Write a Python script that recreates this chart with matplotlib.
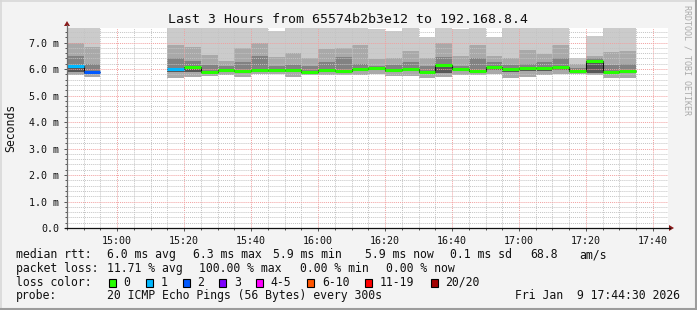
import matplotlib
matplotlib.use("Agg")
import matplotlib.pyplot as plt
import numpy as np
from matplotlib.patches import Rectangle, Polygon
from matplotlib.lines import Line2D

# ---------------- data ----------------
bin_times = ["14:45", "14:50", "14:55", "15:00", "15:05", "15:10", "15:15", "15:20",
             "15:25", "15:30", "15:35", "15:40", "15:45", "15:50", "15:55", "16:00",
             "16:05", "16:10", "16:15", "16:20", "16:25", "16:30", "16:35", "16:40",
             "16:45", "16:50", "16:55", "17:00", "17:05", "17:10", "17:15", "17:20",
             "17:25", "17:30"]
nan = float("nan")
median_ms = [6.10, 5.89, nan, nan, nan, nan, 6.01, 6.09, 5.90, 5.97, 5.94, 5.97,
             5.97, 5.97, 5.90, 5.98, 5.92, 6.01, 6.05, 5.97, 6.01, 5.90, 6.16, 6.01,
             5.92, 6.07, 6.01, 6.05, 6.05, 6.06, 5.92, 6.29, 5.88, 5.92]
loss_bucket = [1, 2, -1, -1, -1, -1, 1, 0, 0, 0, 0, 0, 0, 0, 0, 0, 0, 0, 0, 0, 0,
               0, 0, 0, 0, 0, 0, 0, 0, 0, 0, 0, 0, 0]
smoke_min = [5.77, 5.71, nan, nan, nan, nan, 5.65, 5.70, 5.73, 5.77, 5.71, 5.80,
             5.80, 5.71, 5.77, 5.77, 5.77, 5.77, 5.80, 5.75, 5.75, 5.67, 5.71, 5.77,
             5.77, 5.82, 5.65, 5.71, 5.77, 5.82, 5.82, 5.77, 5.65, 5.65]
smoke_q1 = [5.90, 5.80, nan, nan, nan, nan, 5.90, 5.90, 5.85, 5.88, 5.85, 5.90,
            5.90, 5.88, 5.85, 5.90, 5.88, 5.92, 5.95, 5.90, 5.92, 5.85, 5.85, 5.92,
            5.88, 5.95, 5.90, 5.92, 5.92, 5.95, 5.88, 5.85, 5.85, 5.88]
smoke_q3 = [6.50, 6.20, nan, nan, nan, nan, 6.40, 6.30, 6.15, 6.10, 6.28, 6.50,
            6.10, 6.15, 6.10, 6.25, 6.45, 6.20, 6.10, 6.15, 6.25, 6.10, 6.45, 6.10,
            6.40, 6.25, 6.15, 6.20, 6.25, 6.40, 6.05, 6.40, 6.15, 6.20]
smoke_q4 = [6.97, 6.84, nan, nan, nan, nan, 6.90, 6.85, 6.53, 6.30, 6.80, 7.00,
            6.45, 6.60, 6.40, 6.75, 6.80, 6.90, 6.38, 6.40, 6.70, 6.40, 7.00, 6.50,
            6.90, 6.50, 6.40, 6.72, 6.55, 6.90, 6.20, 6.50, 6.65, 6.70]
smoke_max = [7.80, 7.80, nan, nan, nan, nan, 7.80, 7.80, 7.80, 7.80, 7.80, 7.80,
             7.43, 7.80, 7.80, 7.80, 7.80, 7.80, 7.53, 7.45, 7.80, 7.20, 7.80, 7.50,
             7.80, 7.20, 7.80, 7.80, 7.80, 7.80, 6.40, 7.25, 7.80, 7.80]

loss_labels = ["0", "1", "2", "3", "4-5", "6-10", "11-19", "20/20"]
loss_colors = ["#26ff00", "#00b8ff", "#0059ff", "#7e00ff", "#ff00ff", "#ff5500",
               "#ff0000", "#a10000"]

x_tick_labels = ["15:00", "15:20", "15:40", "16:00", "16:20", "16:40", "17:00",
                 "17:20", "17:40"]
y_tick_values = [0, 1, 2, 3, 4, 5, 6, 7]
y_tick_labels = ["0.0", "1.0 m", "2.0 m", "3.0 m", "4.0 m", "5.0 m", "6.0 m", "7.0 m"]

title = "Last 3 Hours from 65574b2b3e12 to 192.168.8.4"
legend_rtt = [("median rtt:", 16), ("6.0 ms avg", 107.3), ("6.3 ms max", 192.7),
              ("5.9 ms min", 272.7), ("5.9 ms now", 365), ("0.1 ms sd", 450),
              ("68.8", 530), ("am/s", 579.3)]
legend_loss = [("packet loss:", 16), ("11.71 % avg", 107.3), ("100.00 % max", 199.3),
               ("0.00 % min", 300), ("0.00 % now", 386)]
loss_box_x = [108.7, 145.7, 182.7, 219.3, 256, 307.3, 365.3, 430.7]
probe_text = "20 ICMP Echo Pings (56 Bytes) every 300s"
date_text = "Fri Jan  9 17:44:30 2026"


def to_min(s):
    h, m = s.split(":")
    return (int(h) - 15) * 60 + int(m)


x0 = np.array([to_min(t) for t in bin_times], dtype=float)
med = np.array(median_ms)
lo = np.array(smoke_min)
q1 = np.array(smoke_q1)
q3 = np.array(smoke_q3)
q4 = np.array(smoke_q4)
hi = np.array(smoke_max)
STEP = 5.0

# ---------------- figure ----------------
W, H = 697, 310
MONO = "DejaVu Sans Mono"
plt.rcParams["font.family"] = MONO
fig = plt.figure(figsize=(W / 100, H / 100), dpi=100)
fig.patch.set_facecolor("#f3f3f3")

L, R, T, B = 67, 668, 28, 228
ax = fig.add_axes([L / W, 1 - B / H, (R - L) / W, (B - T) / H])
ax.set_facecolor("white")
ax.set_xlim(-15, 164.5)
ax.set_ylim(0, 7.55)
for s in ax.spines.values():
    s.set_visible(False)

ok = ~np.isnan(med)
xs = x0[ok]
# smoke layers
ax.bar(xs, (hi - lo)[ok], bottom=lo[ok], width=STEP, align="edge",
       color="#cbcbcb", linewidth=0, zorder=1)
ax.bar(xs, (q4 - lo)[ok], bottom=lo[ok], width=STEP, align="edge",
       color="#a9a9a9", linewidth=0, zorder=1.1)
ax.bar(xs, (q3 - q1)[ok], bottom=q1[ok], width=STEP, align="edge",
       color="#828282", linewidth=0, zorder=1.2)
ax.bar(xs, (med - q1)[ok], bottom=q1[ok], width=STEP, align="edge",
       color="#575757", linewidth=0, zorder=1.3)

# black median step line, contiguous runs
edges_all = np.append(x0, x0[-1] + STEP)
run = []
for i in range(len(med)):
    if ok[i]:
        run.append(i)
    if (not ok[i] or i == len(med) - 1) and run:
        vals = med[run[0]:run[-1] + 1]
        ax.stairs(vals, edges_all[run[0]:run[-1] + 2], baseline=None,
                  color="#111111", lw=0.8, zorder=3)
        run = []

# loss-coloured median
for i in np.where(ok)[0]:
    ax.hlines(med[i], x0[i], x0[i] + STEP, colors=loss_colors[loss_bucket[i]],
              lw=2.2, zorder=4)

# grid
ax.set_xticks(np.arange(0, 161, 20))
ax.set_xticks(np.arange(-15, 165, 5), minor=True)
ax.set_yticks(y_tick_values)
ax.set_yticks(np.arange(0, 7.55, 0.2), minor=True)
ax.set_xticklabels(x_tick_labels)
ax.set_yticklabels(y_tick_labels)
ax.set_axisbelow(False)
ax.grid(which="minor", color="#c4c4c4", linestyle=(0, (1, 1)), lw=0.7)
ax.grid(which="major", color="#f2a0a0", linestyle=(0, (1, 1)), lw=0.7)
ax.tick_params(which="both", direction="out", color="#555555", width=0.7,
               labelsize=7.2, labelcolor="#111111")
ax.tick_params(which="major", length=2.2, pad=3.2)
ax.tick_params(which="minor", length=1.4)
ax.tick_params(axis="y", which="major", pad=3.6)

# ---------------- overlay in pixel coords ----------------
ov = fig.add_axes([0, 0, 1, 1], zorder=10)
ov.set_xlim(0, W)
ov.set_ylim(H, 0)
ov.axis("off")
ov.patch.set_alpha(0)

# frame shading
ov.add_line(Line2D([0, W], [0.5, 0.5], color="#d8d8d8", lw=1.2))
ov.add_line(Line2D([0.5, 0.5], [0, H], color="#d8d8d8", lw=1.2))
ov.add_line(Line2D([W - 1, W - 1], [0, H], color="#9c9c9c", lw=1.5))
ov.add_line(Line2D([0, W], [H - 1, H - 1], color="#9c9c9c", lw=1.5))

# axes lines with arrows
ov.add_line(Line2D([L, L], [B, T - 3], color="#6e6e6e", lw=0.9))
ov.add_line(Line2D([L - 2, R + 2], [B, B], color="#111111", lw=0.9))
ov.add_patch(Polygon([[L - 3, T - 2], [L + 3, T - 2], [L, T - 7]], closed=True,
                     color="#8b1a1a", lw=0))
ov.add_patch(Polygon([[R + 1, B - 3], [R + 1, B + 3], [R + 6, B]], closed=True,
                     color="#8b1a1a", lw=0))

ov.text(W / 2, 19.3, title, ha="center", va="center", fontsize=9.5,
        color="#111111", family=MONO)
ov.text(10.5, 128, "Seconds", rotation=90, ha="center", va="center",
        fontsize=8.3, color="#111111", family=MONO)
ov.text(687, 5, "RRDTOOL / TOBI OETIKER", rotation=270, ha="center", va="top",
        fontsize=6.0, color="#aaaaaa", family=MONO)

LS = 8.3
for txt, x in legend_rtt:
    ov.text(x, 254.5, txt, ha="left", va="center", fontsize=LS, family=MONO,
            color="#111111")
for txt, x in legend_loss:
    ov.text(x, 268.3, txt, ha="left", va="center", fontsize=LS, family=MONO,
            color="#111111")
ov.text(16, 282.3, "loss color:", ha="left", va="center", fontsize=LS,
        family=MONO, color="#111111")
for lab, col, bx in zip(loss_labels, loss_colors, loss_box_x):
    ov.add_patch(Rectangle((bx, 278.5), 7, 8, facecolor=col, edgecolor="black",
                           lw=0.8))
    ov.text(bx + 14.5, 282.3, lab, ha="left", va="center", fontsize=LS,
            family=MONO, color="#111111")
ov.text(16, 295.8, "probe:", ha="left", va="center", fontsize=LS, family=MONO,
        color="#111111")
ov.text(107.3, 295.8, probe_text, ha="left", va="center", fontsize=LS,
        family=MONO, color="#111111")
ov.text(680, 295.8, date_text, ha="right", va="center", fontsize=LS,
        family=MONO, color="#111111")

fig.savefig("out.png", dpi=100, facecolor=fig.get_facecolor())
